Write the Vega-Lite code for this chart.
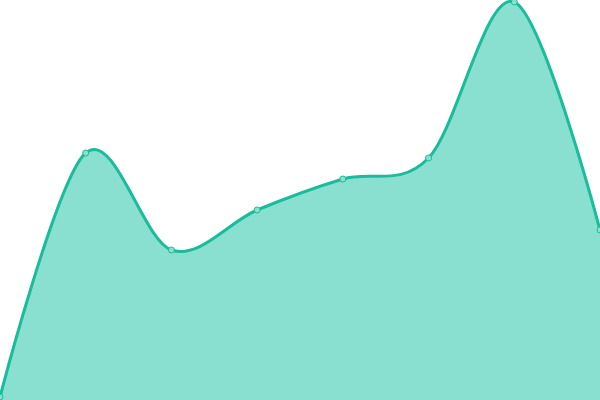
{
  "$schema": "https://vega.github.io/schema/vega-lite/v6.json",
  "width": 600,
  "height": 400,
  "padding": 0,
  "autosize": {"type": "none"},
  "config": {"view": {"stroke": null}},
  "data": {
    "values": [
      {"i": 0, "v": 3},
      {"i": 1, "v": 247},
      {"i": 2, "v": 150},
      {"i": 3, "v": 190},
      {"i": 4, "v": 221},
      {"i": 5, "v": 242},
      {"i": 6, "v": 398},
      {"i": 7, "v": 170}
    ]
  },
  "encoding": {
    "x": {"field": "i", "type": "quantitative", "axis": null, "scale": {"domain": [0, 7], "nice": false, "zero": false}},
    "y": {"field": "v", "type": "quantitative", "axis": null, "scale": {"domain": [0, 400], "nice": false}}
  },
  "layer": [
    {
      "mark": {"type": "area", "interpolate": "cardinal", "fill": "#89e0d0", "fillOpacity": 1}
    },
    {
      "mark": {"type": "line", "interpolate": "cardinal", "stroke": "#1abc9c", "strokeWidth": 3}
    },
    {
      "mark": {"type": "point", "filled": true, "fill": "#89e0d0", "stroke": "#1abc9c", "strokeWidth": 1, "size": 36, "opacity": 1}
    }
  ]
}
